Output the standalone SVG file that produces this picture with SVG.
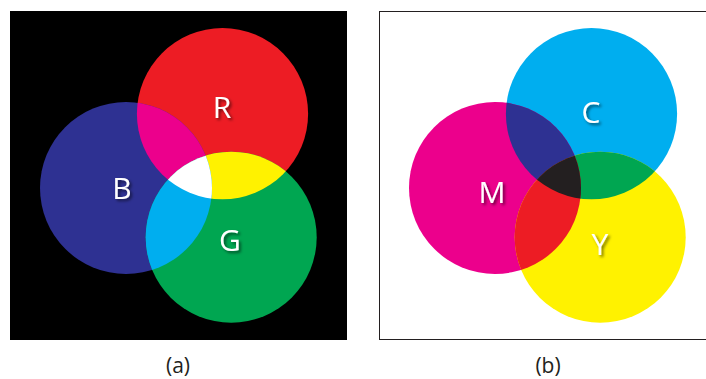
<svg xmlns="http://www.w3.org/2000/svg" width="706" height="379" viewBox="0 0 706 379">
  <style>
    .lbl { font-family: "Open Sans", "Liberation Sans", sans-serif; font-size: 30px; fill: #ffffff; text-anchor: middle; filter: url(#shadow); }
    .cap { font-family: "Open Sans", "Liberation Sans", sans-serif; font-size: 21px; fill: #231f20; text-anchor: middle; }
  </style>
  <defs>
    <filter id="shadow" x="-30%" y="-30%" width="170%" height="170%">
      <feDropShadow dx="2" dy="2" stdDeviation="1.4" flood-color="#000000" flood-opacity="0.55"/>
    </filter>
    <!-- additive (RGB) circles -->
    <clipPath id="clipR"><circle cx="222.5" cy="113.7" r="85.6"/></clipPath>
    <clipPath id="clipG"><circle cx="231.2" cy="237.2" r="85.5"/></clipPath>
    <clipPath id="clipB"><circle cx="126" cy="188" r="86"/></clipPath>
    <!-- subtractive (CMY) circles -->
    <clipPath id="clipC"><circle cx="591.5" cy="113.7" r="85.6"/></clipPath>
    <clipPath id="clipY"><circle cx="600.2" cy="237.2" r="85.5"/></clipPath>
    <clipPath id="clipM"><circle cx="495" cy="188" r="86"/></clipPath>
  </defs>

  <!-- (a) additive mixing -->
  <rect id="panel-a" x="10" y="11" width="337" height="329" fill="#000000"/>
  <g id="node-R"><circle cx="222.5" cy="113.7" r="85.6" fill="#ed1c24"/></g>
  <g id="node-B"><circle cx="126" cy="188" r="86" fill="#2e3192"/></g>
  <g id="node-G"><circle cx="231.2" cy="237.2" r="85.5" fill="#00a651"/></g>
  <g id="overlaps-a">
    <g clip-path="url(#clipR)"><circle cx="126" cy="188" r="86" fill="#ec008c"/></g>
    <g clip-path="url(#clipR)"><circle cx="231.2" cy="237.2" r="85.5" fill="#fff200"/></g>
    <g clip-path="url(#clipB)"><circle cx="231.2" cy="237.2" r="85.5" fill="#00aeef"/></g>
    <g clip-path="url(#clipR)"><g clip-path="url(#clipB)"><circle cx="231.2" cy="237.2" r="85.5" fill="#ffffff"/></g></g>
  </g>
  <g id="labels-a">
    <text class="lbl" x="222" y="118">R</text>
    <text class="lbl" x="122" y="199">B</text>
    <text class="lbl" x="230" y="251">G</text>
  </g>
  <text class="cap" x="178" y="373">(a)</text>

  <!-- (b) subtractive mixing -->
  <rect id="panel-b" x="379.5" y="11.5" width="340" height="328" fill="#ffffff" stroke="#231f20" stroke-width="1"/>
  <g id="node-C"><circle cx="591.5" cy="113.7" r="85.6" fill="#00aeef"/></g>
  <g id="node-M"><circle cx="495" cy="188" r="86" fill="#ec008c"/></g>
  <g id="node-Y"><circle cx="600.2" cy="237.2" r="85.5" fill="#fff200"/></g>
  <g id="overlaps-b">
    <g clip-path="url(#clipC)"><circle cx="495" cy="188" r="86" fill="#2e3192"/></g>
    <g clip-path="url(#clipC)"><circle cx="600.2" cy="237.2" r="85.5" fill="#00a651"/></g>
    <g clip-path="url(#clipM)"><circle cx="600.2" cy="237.2" r="85.5" fill="#ed1c24"/></g>
    <g clip-path="url(#clipC)"><g clip-path="url(#clipM)"><circle cx="600.2" cy="237.2" r="85.5" fill="#231f20"/></g></g>
  </g>
  <g id="labels-b">
    <text class="lbl" x="591" y="122.5">C</text>
    <text class="lbl" x="492" y="203">M</text>
    <text class="lbl" x="600" y="255">Y</text>
  </g>
  <text class="cap" x="548" y="373">(b)</text>
</svg>
